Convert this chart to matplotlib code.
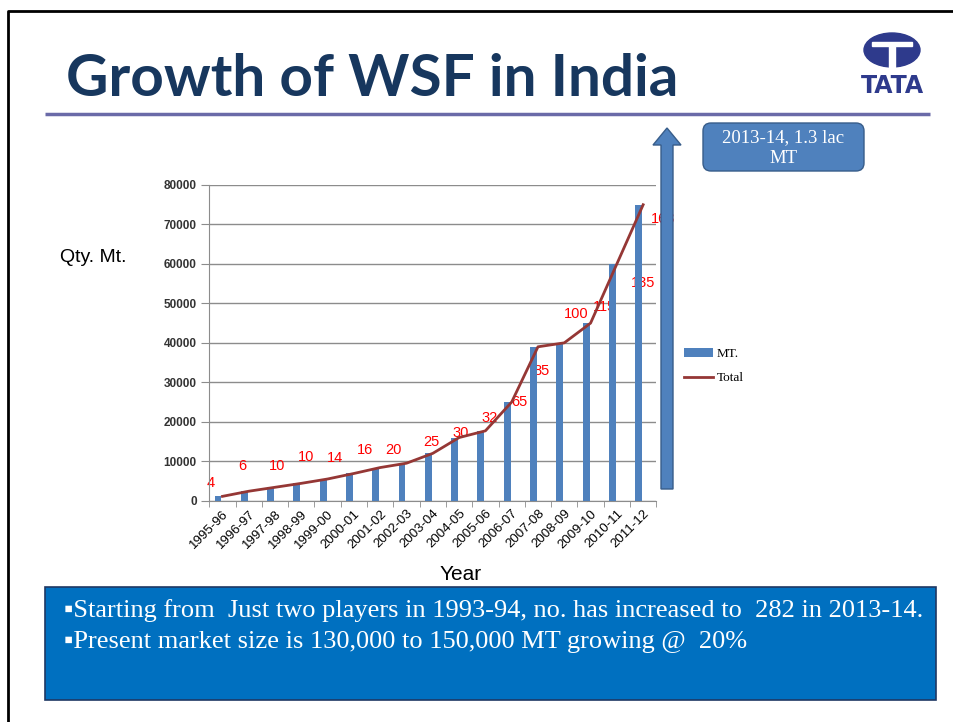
import numpy as np
import matplotlib
matplotlib.use("Agg")
import matplotlib.pyplot as plt
from matplotlib.patches import FancyBboxPatch, Polygon, Ellipse, Rectangle

# ---------------- data ----------------
years = ["1995-96", "1996-97", "1997-98", "1998-99", "1999-00", "2000-01",
         "2001-02", "2002-03", "2003-04", "2004-05", "2005-06", "2006-07",
         "2007-08", "2008-09", "2009-10", "2010-11", "2011-12"]
mt = [1100, 2400, 3400, 4400, 5500, 6900, 8400, 9500, 12000, 16000,
      17700, 25000, 39000, 40000, 45000, 60000, 75000]
total = [1100, 2400, 3400, 4400, 5500, 6900, 8400, 9500, 12000, 16000,
         17700, 25000, 39000, 40000, 45000, 60000, 75000]
# number of players, written as loose red labels over the chart
players = ["4", "6", "10", "10", "14", "16", "20", "25", "30", "32",
           "65", "85", "100", "115", "135", "163"]
player_x = [-0.44, 0.77, 2.06, 3.18, 4.28, 5.42, 6.52, 7.96, 9.06, 10.17,
            11.31, 12.14, 13.44, 14.54, 15.98, 16.76]
player_y = [4600, 8800, 8800, 11100, 10800, 12850, 12850, 14950, 17100,
            21000, 24900, 32900, 47300, 49200, 55100, 71300]

BLUE = "#4F81BD"
RED_LINE = "#953735"
NAVY = "#17375E"

W, H = 954, 722
fig = plt.figure(figsize=(W / 100, H / 100), dpi=100)


def fx(px):
    return px / W


def fy(py):
    return 1 - py / H


# ---------------- chart ----------------
ax = fig.add_axes([fx(209.3), fy(500.7), fx(656.3) - fx(209.3), fy(185) - fy(500.7)])
x = np.arange(len(years))
bars = ax.bar(x - 0.17, mt, width=0.26, color=BLUE, zorder=3, label="MT.")
line, = ax.plot(x, total, color=RED_LINE, lw=2.0, zorder=4, label="Total")
for s, px_, py_ in zip(players, player_x, player_y):
    ax.text(px_, py_, s, color="red", fontsize=10.5, ha="center", va="center",
            family="Liberation Sans", zorder=2)

ax.set_xlim(-0.5, len(years) - 0.5)
ax.set_ylim(0, 80000)
ax.set_yticks(range(0, 80001, 10000))
ax.set_yticklabels([str(v) for v in range(0, 80001, 10000)], fontsize=8.5,
                   color="#333333", fontweight="bold", family="Liberation Sans")
ax.yaxis.grid(True, color="#8C8C8C", lw=1.0, zorder=0)
ax.set_axisbelow(True)
ax.set_xticks(x)
ax.set_xticklabels(years, rotation=45, ha="right", rotation_mode="anchor",
                   fontsize=9.5, family="Liberation Sans")
ax.set_xticks(np.arange(-0.5, len(years), 1.0), minor=True)
ax.tick_params(axis="x", which="major", length=0, pad=5)
ax.tick_params(axis="x", which="minor", length=4, color="#8C8C8C")
ax.tick_params(axis="y", length=6, color="#8C8C8C", pad=3)
for side in ["top", "right"]:
    ax.spines[side].set_visible(False)
ax.spines["left"].set_color("#8C8C8C")
ax.spines["bottom"].set_color("#8C8C8C")
ax.patch.set_alpha(0)

fig.legend(handles=[bars, line], labels=["MT.", "Total"], loc="center left",
           bbox_to_anchor=(fx(672), fy(366)), frameon=False,
           prop={"family": "Liberation Serif", "size": 9.5}, handlelength=2.2,
           handletextpad=0.3, labelspacing=0.9)

# ---------------- overlay for slide decorations ----------------
ov = fig.add_axes([0, 0, 1, 1])
ov.set_xlim(0, W)
ov.set_ylim(H, 0)
ov.axis("off")
ov.patch.set_alpha(0)

# slide frame
ov.plot([8, 8, W + 5], [H + 5, 11, 11], color="black", lw=2)

# title + rule
ov.text(66, 79, "Growth of WSF in India", fontsize=42, fontweight="bold",
        color=NAVY, family="Lato", va="center", ha="left")
ov.plot([45, 930], [114, 114], color="#6A6AA8", lw=2.5, solid_capstyle="butt")

# TATA logo
ov.add_patch(Ellipse((892, 50), 56, 34, color="#2E3A8C"))
ov.add_patch(Polygon([[872, 42], [912, 42], [912, 46], [895, 46], [895, 68],
                      [889, 68], [889, 46], [872, 46]], color="white"))
ov.text(892, 86, "TATA", fontsize=17, fontweight="heavy", color="#2E3A8C",
        ha="center", va="center", family="DejaVu Sans")

# big arrow
ov.add_patch(Polygon([[661, 489], [673, 489], [673, 145], [681, 145],
                      [667, 128], [653, 145], [661, 145]],
                     closed=True, facecolor=BLUE, edgecolor="#385D8A", lw=1))

# callout box
ov.add_patch(FancyBboxPatch((703, 123), 161, 48,
                            boxstyle="round,pad=0,rounding_size=8",
                            facecolor=BLUE, edgecolor="#385D8A", lw=1))
ov.text(783.5, 148, "2013-14, 1.3 lac\nMT", color="white", fontsize=13.5,
        family="Liberation Serif", ha="center", va="center", linespacing=1.3)

# axis titles
ov.text(60, 258, "Qty. Mt.", fontsize=14, family="Liberation Sans",
        ha="left", va="center")
ov.text(461, 574, "Year", fontsize=15, family="Liberation Sans",
        ha="center", va="center")

# bottom text box
ov.add_patch(Rectangle((45, 587), 891, 113, facecolor="#0070C0",
                       edgecolor="#1F3864", lw=1.2))
ov.text(64, 611, "▪Starting from  Just two players in 1993-94, no. has increased to  282 in 2013-14.",
        color="white", fontsize=19, family=["Liberation Serif", "DejaVu Sans"],
        ha="left", va="center")
ov.text(64, 642, "▪Present market size is 130,000 to 150,000 MT growing @  20%",
        color="white", fontsize=19, family=["Liberation Serif", "DejaVu Sans"],
        ha="left", va="center")

fig.savefig("out.png", dpi=100)
